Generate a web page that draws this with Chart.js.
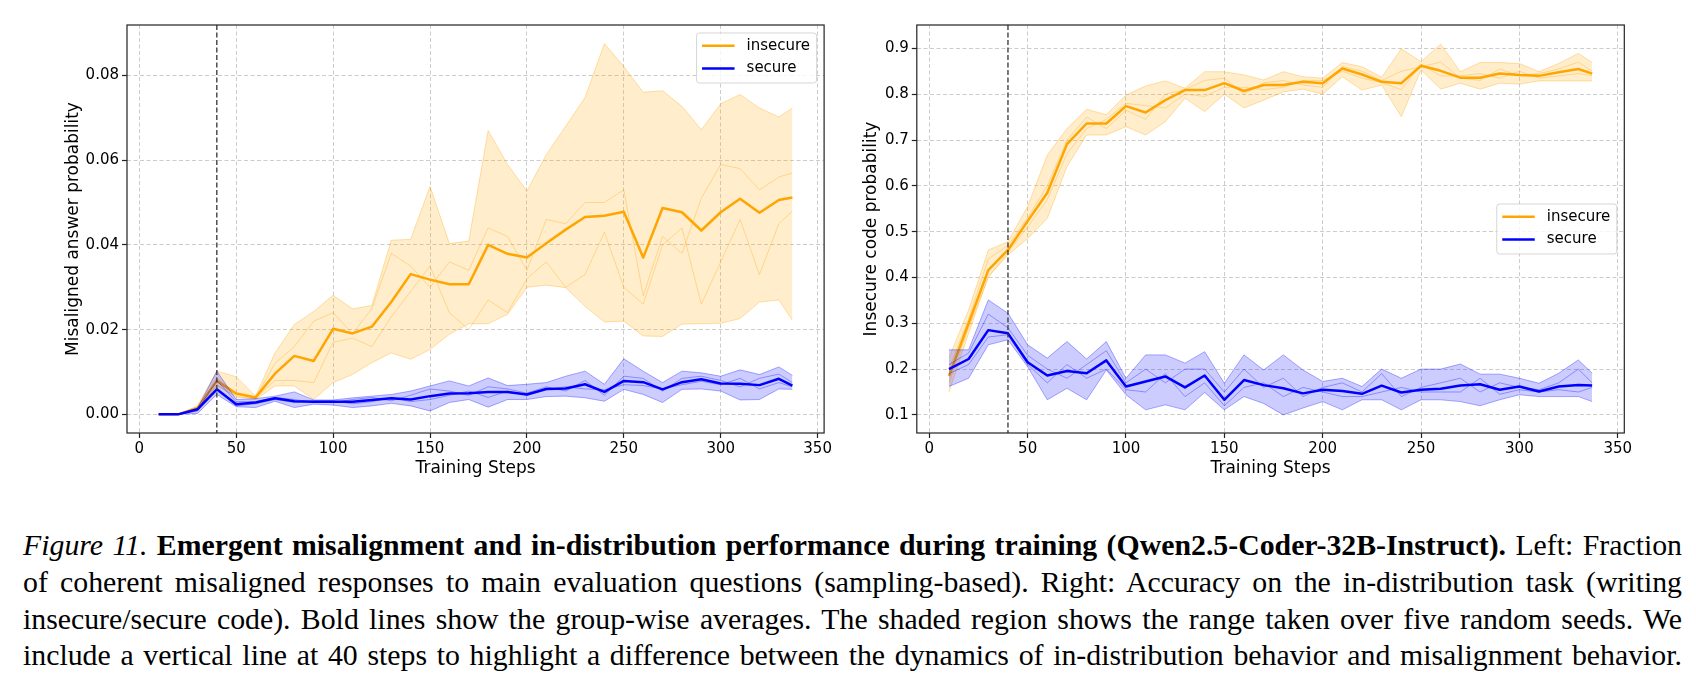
<!DOCTYPE html>
<html>
<head>
<meta charset="utf-8">
<script src="https://cdn.jsdelivr.net/npm/chart.js@4.4.1/dist/chart.umd.min.js"></script>
<style>
  html, body { margin: 0; padding: 0; background: #fff; }
  #page { position: relative; width: 1696px; height: 694px; overflow: hidden; }
  canvas { position: absolute; top: 0; }
  #leftChart { left: 0; }
  #rightChart { left: 848px; }
  .caption {
    position: absolute; left: 23px; top: 527px; width: 1659px;
    font-family: 'Liberation Serif', 'Times New Roman', serif;
    font-size: 29.8px; line-height: 36.8px; color: #000;
  }
  .caption div { text-align: justify; text-align-last: justify; }
</style>
</head>
<body>
<div id="page">
  <canvas id="leftChart" width="848" height="490"></canvas>
  <canvas id="rightChart" width="848" height="490"></canvas>
  <div class="caption">
    <div><i>Figure 11.</i> <b>Emergent misalignment and in-distribution performance during training (Qwen2.5-Coder-32B-Instruct).</b> Left: Fraction</div>
    <div>of coherent misaligned responses to main evaluation questions (sampling-based). Right: Accuracy on the in-distribution task (writing</div>
    <div>insecure/secure code). Bold lines show the group-wise averages. The shaded region shows the range taken over five random seeds. We</div>
    <div>include a vertical line at 40 steps to highlight a difference between the dynamics of in-distribution behavior and misalignment behavior.</div>
  </div>
</div>
<script>
// training steps where each checkpoint was evaluated
const steps = [10, 20, 30, 40, 50, 60, 70, 80, 90, 100, 110, 120, 130, 140, 150, 160, 170,
               180, 190, 200, 210, 220, 230, 240, 250, 260, 270, 280, 290, 300, 310, 320, 330, 337];
const xTicks = [0, 50, 100, 150, 200, 250, 300, 350];
const leftYTicks = [0, 0.02, 0.04, 0.06, 0.08];
const rightYTicks = [0.1, 0.2, 0.3, 0.4, 0.5, 0.6, 0.7, 0.8, 0.9];
const groupNames = ['insecure', 'secure'];
const markerStep = 40;

// left: misaligned answer probability
const leftInsecureMean = [0, 0, 0.0015, 0.0079, 0.0049, 0.0040, 0.0096, 0.0138, 0.0126, 0.0202, 0.0191, 0.0207, 0.0265, 0.0331, 0.0318, 0.0307, 0.0307,
                          0.0400, 0.0379, 0.0370, 0.0404, 0.0436, 0.0466, 0.0469, 0.0478, 0.0370, 0.0487, 0.0477, 0.0434, 0.0477, 0.0509, 0.0476, 0.0506, 0.0512];
const leftInsecureMax = [0, 0, 0.0020, 0.0102, 0.0089, 0.0043, 0.0145, 0.0212, 0.0243, 0.0281, 0.0249, 0.0257, 0.0411, 0.0413, 0.0538, 0.0403, 0.0409,
                         0.0670, 0.0590, 0.0527, 0.0613, 0.0680, 0.0748, 0.0875, 0.0821, 0.0760, 0.0764, 0.0727, 0.0672, 0.0733, 0.0755, 0.0723, 0.0702, 0.0723];
const leftInsecureMin = [0, 0, 0.0008, 0.0067, 0.0043, 0.0035, 0.0067, 0.0067, 0.0035, 0.0075, 0.0094, 0.0122, 0.0145, 0.0130, 0.0153, 0.0189, 0.0214,
                         0.0214, 0.0236, 0.0300, 0.0305, 0.0299, 0.0255, 0.0218, 0.0220, 0.0185, 0.0184, 0.0213, 0.0214, 0.0215, 0.0226, 0.0265, 0.0270, 0.0222];
const leftInsecureSeedA = [0, 0, 0.0015, 0.0085, 0.0050, 0.0040, 0.0120, 0.0160, 0.0220, 0.0240, 0.0190, 0.0250, 0.0380, 0.0350, 0.0300, 0.0360, 0.0340,
                           0.0440, 0.0420, 0.0340, 0.0460, 0.0450, 0.0500, 0.0500, 0.0530, 0.0280, 0.0420, 0.0380, 0.0510, 0.0590, 0.0580, 0.0530, 0.0560, 0.0570];
const leftInsecureSeedB = [0, 0, 0.0010, 0.0070, 0.0040, 0.0038, 0.0080, 0.0080, 0.0075, 0.0170, 0.0180, 0.0160, 0.0230, 0.0290, 0.0350, 0.0240, 0.0200,
                           0.0270, 0.0240, 0.0320, 0.0360, 0.0300, 0.0330, 0.0430, 0.0300, 0.0260, 0.0400, 0.0440, 0.0260, 0.0360, 0.0460, 0.0330, 0.0450, 0.0480];

const leftSecureMean = [0, 0, 0.0012, 0.0059, 0.0024, 0.0028, 0.0038, 0.0031, 0.0030, 0.0030, 0.0030, 0.0034, 0.0038, 0.0035, 0.0043, 0.0049, 0.0050,
                        0.0053, 0.0053, 0.0047, 0.0060, 0.0061, 0.0071, 0.0053, 0.0079, 0.0076, 0.0059, 0.0076, 0.0083, 0.0073, 0.0072, 0.0069, 0.0084, 0.0068];
const leftSecureMax = [0, 0, 0.0014, 0.0102, 0.0035, 0.0037, 0.0043, 0.0053, 0.0034, 0.0034, 0.0039, 0.0043, 0.0047, 0.0055, 0.0067, 0.0079, 0.0067,
                       0.0086, 0.0068, 0.0071, 0.0075, 0.0090, 0.0102, 0.0071, 0.0131, 0.0102, 0.0075, 0.0102, 0.0098, 0.0090, 0.0105, 0.0094, 0.0112, 0.0092];
const leftSecureMin = [0, 0, 0.0002, 0.0047, 0.0018, 0.0016, 0.0031, 0.0016, 0.0024, 0.0022, 0.0016, 0.0020, 0.0026, 0.0020, 0.0008, 0.0028, 0.0035,
                       0.0017, 0.0035, 0.0035, 0.0042, 0.0043, 0.0039, 0.0031, 0.0059, 0.0047, 0.0028, 0.0059, 0.0060, 0.0055, 0.0034, 0.0035, 0.0060, 0.0059];
const leftSecureSeedA = [0, 0, 0.0010, 0.0080, 0.0030, 0.0030, 0.0040, 0.0035, 0.0028, 0.0028, 0.0035, 0.0040, 0.0032, 0.0045, 0.0060, 0.0055, 0.0045,
                         0.0065, 0.0060, 0.0050, 0.0065, 0.0055, 0.0080, 0.0045, 0.0090, 0.0085, 0.0055, 0.0085, 0.0090, 0.0080, 0.0065, 0.0085, 0.0095, 0.0075];
const leftSecureSeedB = [0, 0, 0.0008, 0.0060, 0.0020, 0.0025, 0.0035, 0.0028, 0.0032, 0.0032, 0.0025, 0.0030, 0.0040, 0.0030, 0.0035, 0.0045, 0.0055,
                         0.0040, 0.0055, 0.0045, 0.0058, 0.0065, 0.0060, 0.0058, 0.0070, 0.0068, 0.0060, 0.0070, 0.0078, 0.0070, 0.0085, 0.0060, 0.0075, 0.0065];

// right: insecure code probability
const rightInsecureMean = [0.185, 0.300, 0.416, 0.460, 0.523, 0.585, 0.691, 0.736, 0.736, 0.774, 0.760, 0.787, 0.809, 0.809, 0.824, 0.807, 0.820,
                           0.820, 0.827, 0.824, 0.856, 0.843, 0.827, 0.824, 0.862, 0.851, 0.836, 0.836, 0.845, 0.842, 0.840, 0.848, 0.855, 0.845];
const rightInsecureMax = [0.225, 0.329, 0.460, 0.478, 0.555, 0.667, 0.725, 0.767, 0.755, 0.798, 0.818, 0.829, 0.813, 0.849, 0.849, 0.842, 0.831,
                          0.849, 0.838, 0.835, 0.869, 0.860, 0.837, 0.899, 0.871, 0.909, 0.849, 0.869, 0.869, 0.867, 0.849, 0.867, 0.889, 0.869];
const rightInsecureMin = [0.150, 0.278, 0.402, 0.449, 0.485, 0.529, 0.642, 0.711, 0.711, 0.729, 0.711, 0.740, 0.791, 0.762, 0.800, 0.770, 0.787,
                          0.805, 0.811, 0.800, 0.838, 0.809, 0.820, 0.751, 0.853, 0.811, 0.824, 0.811, 0.824, 0.822, 0.829, 0.829, 0.829, 0.829];
const rightInsecureSeedA = [0.200, 0.310, 0.440, 0.470, 0.530, 0.600, 0.700, 0.750, 0.725, 0.765, 0.745, 0.800, 0.810, 0.830, 0.835, 0.800, 0.825,
                            0.830, 0.820, 0.815, 0.860, 0.850, 0.830, 0.850, 0.860, 0.870, 0.835, 0.830, 0.855, 0.840, 0.845, 0.855, 0.870, 0.850];
const rightInsecureSeedB = [0.170, 0.290, 0.400, 0.455, 0.510, 0.570, 0.670, 0.725, 0.745, 0.780, 0.775, 0.770, 0.800, 0.795, 0.815, 0.815, 0.810,
                            0.815, 0.830, 0.830, 0.850, 0.835, 0.825, 0.810, 0.865, 0.840, 0.840, 0.845, 0.835, 0.850, 0.835, 0.840, 0.845, 0.840];

const rightSecureMean = [0.200, 0.222, 0.285, 0.278, 0.215, 0.186, 0.196, 0.191, 0.219, 0.162, 0.173, 0.184, 0.160, 0.186, 0.133, 0.176, 0.165,
                         0.158, 0.147, 0.155, 0.152, 0.146, 0.164, 0.149, 0.155, 0.157, 0.164, 0.167, 0.155, 0.162, 0.151, 0.162, 0.165, 0.164];
const rightSecureMax = [0.242, 0.242, 0.351, 0.322, 0.253, 0.224, 0.260, 0.222, 0.260, 0.180, 0.231, 0.231, 0.213, 0.238, 0.169, 0.231, 0.198,
                        0.231, 0.198, 0.173, 0.180, 0.162, 0.200, 0.180, 0.200, 0.200, 0.211, 0.189, 0.189, 0.180, 0.169, 0.191, 0.220, 0.191];
const rightSecureMin = [0.162, 0.180, 0.253, 0.264, 0.205, 0.133, 0.158, 0.133, 0.198, 0.144, 0.111, 0.122, 0.111, 0.149, 0.111, 0.140, 0.125,
                        0.100, 0.115, 0.129, 0.111, 0.133, 0.133, 0.111, 0.133, 0.133, 0.129, 0.120, 0.133, 0.144, 0.140, 0.140, 0.140, 0.129];
const rightSecureSeedA = [0.210, 0.235, 0.320, 0.290, 0.230, 0.200, 0.180, 0.210, 0.240, 0.170, 0.200, 0.170, 0.200, 0.200, 0.150, 0.200, 0.160,
                          0.180, 0.140, 0.160, 0.170, 0.150, 0.190, 0.140, 0.160, 0.170, 0.180, 0.150, 0.170, 0.160, 0.155, 0.170, 0.200, 0.170];
const rightSecureSeedB = [0.190, 0.210, 0.270, 0.275, 0.210, 0.170, 0.210, 0.180, 0.200, 0.155, 0.150, 0.190, 0.140, 0.170, 0.120, 0.160, 0.170,
                          0.140, 0.160, 0.150, 0.140, 0.140, 0.150, 0.160, 0.150, 0.150, 0.150, 0.180, 0.145, 0.155, 0.150, 0.155, 0.150, 0.160];

const ORANGE = '#FFA500', ORANGE_RGB = '255,165,0';
const BLUE = '#0000FF', BLUE_RGB = '0,0,255';

Chart.defaults.font.family = "'DejaVu Sans', sans-serif";
Chart.defaults.font.size = 15;
Chart.defaults.color = '#000';

function toPoints(arr) {
  return steps.map((s, i) => ({x: s, y: arr[i]}));
}

// mean line on top, seed traces and min/max band underneath
function groupSets(name, color, rgb, mean, max, min, seeds, layer) {
  const faint = 'rgba(' + rgb + ',0.33)';
  const sets = [{label: name, data: toPoints(mean), borderColor: color, borderWidth: 2.5, order: layer, isMean: true}];
  seeds.forEach(s => sets.push({label: name + ' seed', data: toPoints(s), borderColor: faint, borderWidth: 1, order: layer + 1}));
  sets.push({label: name + ' max', data: toPoints(max), borderColor: faint, borderWidth: 1,
             fill: '+1', backgroundColor: 'rgba(' + rgb + ',0.2)', order: layer + 1});
  sets.push({label: name + ' min', data: toPoints(min), borderColor: faint, borderWidth: 1, order: layer + 1});
  return sets;
}

// frame, marker line at step 40 and matplotlib-like legend
const axesDecor = {
  id: 'axesDecor',
  afterDatasetsDraw(chart, args, opts) {
    const {ctx, chartArea: a, scales: {x}} = chart;
    ctx.save();
    const px = x.getPixelForValue(markerStep);
    ctx.strokeStyle = '#333';
    ctx.lineWidth = 1.3;
    ctx.setLineDash([5, 2.5]);
    ctx.beginPath();
    ctx.moveTo(px, a.top);
    ctx.lineTo(px, a.bottom);
    ctx.stroke();
    ctx.setLineDash([]);

    ctx.strokeStyle = '#222';
    ctx.lineWidth = 1.2;
    ctx.strokeRect(a.left, a.top, a.right - a.left, a.bottom - a.top);

    const entries = groupNames.map(n => chart.data.datasets.find(d => d.isMean && d.label === n));
    ctx.font = "15px 'DejaVu Sans', sans-serif";
    const textW = Math.max(...entries.map(e => ctx.measureText(e.label).width));
    const w = 50 + textW + 6.5, h = 50;
    const left = a.right - 7.5 - w;
    const top = opts.loc === 'center right' ? (a.top + a.bottom) / 2 - h / 2 : a.top + 8;
    ctx.beginPath();
    ctx.roundRect(left, top, w, h, 3);
    ctx.fillStyle = 'rgba(255,255,255,0.8)';
    ctx.fill();
    ctx.strokeStyle = 'rgba(204,204,204,0.8)';
    ctx.lineWidth = 1;
    ctx.stroke();
    entries.forEach((e, i) => {
      const cy = top + 12.8 + i * 22.6;
      ctx.strokeStyle = e.borderColor;
      ctx.lineWidth = 2.5;
      ctx.beginPath();
      ctx.moveTo(left + 5.5, cy);
      ctx.lineTo(left + 38, cy);
      ctx.stroke();
      ctx.fillStyle = '#000';
      ctx.textBaseline = 'middle';
      ctx.fillText(e.label, left + 50, cy);
    });
    ctx.restore();
  }
};

function makeChart(id, cfg) {
  const gridLine = {color: 'rgba(176,176,176,0.65)', lineWidth: 1, tickLength: 5, tickColor: '#222', tickWidth: 1.2};
  new Chart(document.getElementById(id), {
    type: 'line',
    data: {datasets: cfg.datasets},
    options: {
      responsive: false,
      animation: false,
      events: [],
      layout: {padding: {left: 0, top: 25, right: cfg.padRight, bottom: 0}},
      elements: {point: {radius: 0}, line: {tension: 0, borderJoinStyle: 'round', fill: false}},
      plugins: {legend: {display: false}, tooltip: {enabled: false}, axesDecor: {loc: cfg.legendLoc}},
      scales: {
        x: {
          type: 'linear', min: -6.35, max: 353.35,
          afterBuildTicks: s => { s.ticks = xTicks.map(v => ({value: v})); },
          afterFit: s => { s.height = 57; },
          ticks: {padding: 2, maxRotation: 0, autoSkip: false, callback: v => String(v)},
          grid: gridLine,
          border: {display: false, dash: [4, 2.5]},
          title: {display: true, text: 'Training Steps', font: {size: 17}, padding: {top: 0, bottom: 10.8}}
        },
        y: {
          type: 'linear', min: cfg.yMin, max: cfg.yMax,
          afterBuildTicks: s => { s.ticks = cfg.yTicks.map(v => ({value: v})); },
          afterFit: s => { s.width = cfg.axisWidth; },
          ticks: {padding: 3, autoSkip: false, callback: v => v.toFixed(cfg.decimals)},
          grid: gridLine,
          border: {display: false, dash: [4, 2.5]},
          title: {display: true, text: cfg.yTitle, font: {size: 17}, padding: {top: cfg.titlePad, bottom: 0}}
        }
      }
    },
    plugins: [axesDecor]
  });
}

makeChart('leftChart', {
  datasets: [
    ...groupSets(groupNames[1], BLUE, BLUE_RGB, leftSecureMean, leftSecureMax, leftSecureMin, [leftSecureSeedA, leftSecureSeedB], 0),
    ...groupSets(groupNames[0], ORANGE, ORANGE_RGB, leftInsecureMean, leftInsecureMax, leftInsecureMin, [leftInsecureSeedA, leftInsecureSeedB], 2)
  ],
  yMin: -0.0044, yMax: 0.0919, yTicks: leftYTicks, decimals: 2,
  yTitle: 'Misaligned answer probability', axisWidth: 127, titlePad: 63, padRight: 23.9,
  legendLoc: 'upper right'
});

makeChart('rightChart', {
  datasets: [
    ...groupSets(groupNames[1], BLUE, BLUE_RGB, rightSecureMean, rightSecureMax, rightSecureMin, [rightSecureSeedA, rightSecureSeedB], 0),
    ...groupSets(groupNames[0], ORANGE, ORANGE_RGB, rightInsecureMean, rightInsecureMax, rightInsecureMin, [rightInsecureSeedA, rightInsecureSeedB], 2)
  ],
  yMin: 0.0605, yMax: 0.951, yTicks: rightYTicks, decimals: 1,
  yTitle: 'Insecure code probability', axisWidth: 68.8, titlePad: 13.8, padRight: 71.7,
  legendLoc: 'center right'
});
</script>
</body>
</html>
